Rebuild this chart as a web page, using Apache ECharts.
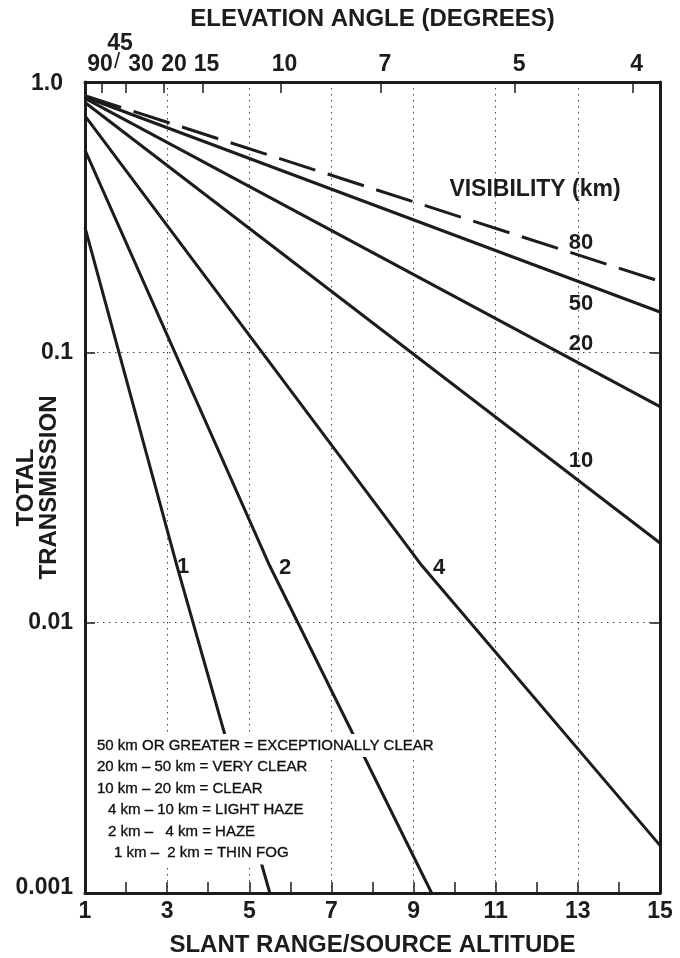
<!DOCTYPE html>
<html><head><meta charset="utf-8">
<script src="https://cdn.jsdelivr.net/npm/echarts@6/dist/echarts.min.js"></script>
<style>html,body{margin:0;padding:0;background:#fff}#c{width:680px;height:958px}</style>
</head><body><div id="c"></div>
<script>
// ---- data ----
const visibility = ['80', '50', '20', '10', '4', '2', '1'];
// each curve: points [slant range, transmission]
const curve80 = [[1, 0.89], [15, 0.183]];
const curve50 = [[1, 0.88], [15, 0.141]];
const curve20 = [[1, 0.87], [15, 0.063]];
const curve10 = [[1, 0.84], [15, 0.0197]];
const curve4 = [[1, 0.75], [9.21, 0.0162], [15, 0.0015]];
const curve2 = [[1, 0.56], [5.5, 0.0162], [9.44, 0.001]];
const curve1 = [[1, 0.29], [3.24, 0.0162], [5.5, 0.001]];
const curves = [curve80, curve50, curve20, curve10, curve4, curve2, curve1];
const bottomTickLabels = [1, 3, 5, 7, 9, 11, 13, 15];
const elevationAngles = [90, 45, 30, 20, 15, 10, 7, 5, 4];
const yTickLabels = ['1.0', '0.1', '0.01', '0.001'];
const legendLines = [
  '50 km OR GREATER = EXCEPTIONALLY CLEAR',
  '20 km \u2013 50 km = VERY CLEAR',
  '10 km \u2013 20 km = CLEAR',
  '4 km \u2013 10 km = LIGHT HAZE',
  '2 km \u2013   4 km = HAZE',
  '1 km \u2013  2 km = THIN FOG'
];

const FONT = '"Liberation Sans", Arial, Helvetica, sans-serif';
const INK = '#1c1c1c';

// elevation angle -> slant range / altitude (cosecant scale of the top axis)
const elevPos = elevationAngles.map(a => 1 / Math.sin(a * Math.PI / 180));
function elevLabel(v) {
  let best = 0;
  elevPos.forEach((p, i) => { if (Math.abs(p - v) < Math.abs(elevPos[best] - v)) best = i; });
  return elevationAngles[best];
}
const topShift = {90: 's90', 30: 's30', 20: 's20'};

const chart = echarts.init(document.getElementById('c'), null, {renderer: 'canvas'});

const series = visibility.map((v, i) => ({
  name: v,
  type: 'line',
  xAxisIndex: 0,
  yAxisIndex: 0,
  data: curves[i],
  symbol: 'none',
  silent: true,
  lineStyle: {color: INK, width: 3, type: v === '80' ? [38, 13] : 'solid', join: 'round'}
}));

const labelStyle = {fontFamily: FONT, fontWeight: 'bold', fontSize: 23, color: INK};
const textEl = (txt, cx, cy, size, weight) => ({
  type: 'text', z: 100, x: cx, y: cy,
  style: {text: txt, fill: INK, fontFamily: FONT, fontWeight: weight || 'bold', fontSize: size || 22,
          align: 'center', verticalAlign: 'middle'}
});

const legendTops = [734, 755.5, 777, 798.5, 820, 841.5];
const legendLefts = [95, 95, 95, 106, 106, 112];
const nameStyle = {fontFamily: FONT, fontWeight: 'bold', fontSize: 24, color: INK};

const option = {
  animation: false,
  backgroundColor: '#fff',
  grid: {left: 85, right: 20, top: 82, bottom: 65, containLabel: false, outerBoundsMode: 'none'},
  xAxis: [
    {
      type: 'value', position: 'bottom', min: 1, max: 15, interval: 1,
      axisLine: {onZero: false, lineStyle: {color: INK, width: 3}},
      axisTick: {inside: true, length: 11, lineStyle: {color: INK, width: 1.5}},
      axisLabel: Object.assign({margin: 7, hideOverlap: false, showMinLabel: true, showMaxLabel: true,
        formatter: v => (bottomTickLabels.indexOf(v) >= 0 ? String(v) : '')}, labelStyle),
      splitLine: {show: false},
      name: 'SLANT RANGE/SOURCE ALTITUDE', nameLocation: 'middle', nameGap: 40, nameMoveOverlap: false,
      nameTextStyle: nameStyle
    },
    {
      type: 'value', position: 'bottom', min: 1, max: 15, interval: 2,
      axisLine: {show: false}, axisTick: {show: false}, axisLabel: {show: false},
      splitLine: {show: true, lineStyle: {color: '#444', width: 1, type: [1.5, 4.5]}}
    },
    {
      type: 'value', position: 'top', min: 1, max: 15,
      axisLine: {onZero: false, lineStyle: {color: INK, width: 3}},
      axisTick: {inside: true, length: 11, customValues: elevPos, lineStyle: {color: INK, width: 1.5}},
      axisLabel: Object.assign({
        margin: 6, customValues: elevPos, hideOverlap: false, showMinLabel: true, showMaxLabel: true,
        formatter: v => {
          const a = elevLabel(v);
          if (a === 45) return '';
          return topShift[a] ? '{' + topShift[a] + '|' + a + '}' : '{n|' + a + '}';
        },
        rich: {
          n: {fontFamily: FONT, fontWeight: 'bold', fontSize: 23, color: INK, padding: [0, 0, 0, 8]},
          s90: {fontFamily: FONT, fontWeight: 'bold', fontSize: 23, color: INK, padding: [0, 0, 0, 30]},
          s30: {fontFamily: FONT, fontWeight: 'bold', fontSize: 23, color: INK, padding: [0, 0, 0, 30]},
          s20: {fontFamily: FONT, fontWeight: 'bold', fontSize: 23, color: INK, padding: [0, 0, 0, 20]}
        }
      }, labelStyle),
      splitLine: {show: false},
      name: 'ELEVATION ANGLE (DEGREES)', nameLocation: 'middle', nameGap: 51, nameMoveOverlap: false,
      nameTextStyle: nameStyle
    }
  ],
  yAxis: [
    {
      type: 'log', logBase: 10, min: 0.001, max: 1, position: 'left',
      axisLine: {onZero: false, lineStyle: {color: INK, width: 3}},
      axisTick: {inside: true, length: 10, lineStyle: {color: INK, width: 1.5}},
      axisLabel: Object.assign({margin: 12, hideOverlap: false, showMinLabel: true, showMaxLabel: true,
        formatter: v => {
          const k = Math.round(-Math.log10(v));
          return k === 0 ? '{top|' + yTickLabels[k] + '}' : k === 3 ? '{bot|' + yTickLabels[k] + '}' : yTickLabels[k];
        },
        rich: {
          top: {fontFamily: FONT, fontWeight: 'bold', fontSize: 23, color: INK, padding: [4, 10, 0, 0]},
          bot: {fontFamily: FONT, fontWeight: 'bold', fontSize: 23, color: INK, padding: [0, 0, 10, 0]}
        }
      }, labelStyle),
      splitLine: {show: true, lineStyle: {color: '#444', width: 1, type: [1.5, 4.5]}},
      minorTick: {show: false},
      name: 'TOTAL\nTRANSMISSION', nameLocation: 'middle', nameGap: 24, nameRotate: 90, nameMoveOverlap: false,
      nameTextStyle: Object.assign({lineHeight: 23}, nameStyle)
    },
    {
      type: 'log', logBase: 10, min: 0.001, max: 1, position: 'right',
      axisLine: {onZero: false, lineStyle: {color: INK, width: 3}},
      axisTick: {inside: true, length: 10, lineStyle: {color: INK, width: 1.5}},
      axisLabel: {show: false},
      splitLine: {show: false}
    }
  ],
  series: series,
  graphic: [
    textEl('45', 120, 44, 23),
    textEl('/', 117, 62, 22, 'normal'),
    textEl('VISIBILITY (km)', 535, 190, 23),
    textEl(visibility[0], 581, 243),
    textEl(visibility[1], 581, 304),
    textEl(visibility[2], 581, 344),
    textEl(visibility[3], 581, 461),
    textEl(visibility[4], 439, 568),
    textEl(visibility[5], 285, 568),
    textEl(visibility[6], 183, 567)
  ].concat(legendLines.map((t, i) => ({
    type: 'text', z: 100, left: legendLefts[i], top: legendTops[i],
    style: {text: t, fill: '#111', stroke: '#111', lineWidth: 0.35, fontFamily: FONT, fontSize: 15,
            backgroundColor: '#fff', padding: [4, 2, 4, 2]}
  })))
};
chart.setOption(option);
</script>
</body></html>
